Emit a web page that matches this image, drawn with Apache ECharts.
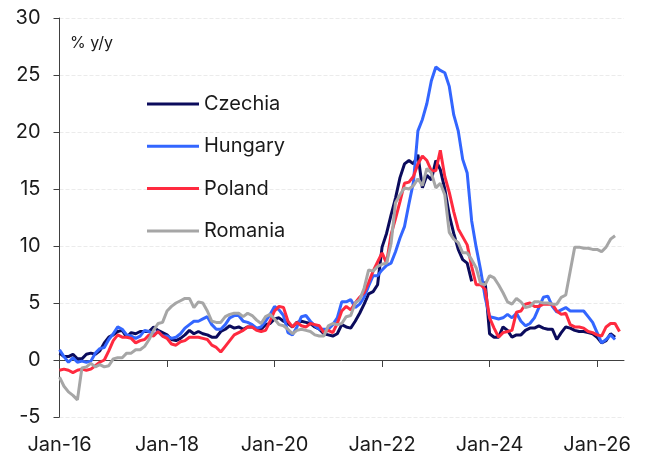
<!DOCTYPE html>
<html lang="en">
<head>
    <meta charset="UTF-8">
    <title>CPI inflation CEE</title>
    <script src="https://cdn.jsdelivr.net/npm/echarts@6.0.0/dist/echarts.min.js"></script>
</head>
<body style="margin: 0; background-color: #ffffff">
<div id="container" style="width: 651px; height: 457px"></div>
<script type="text/javascript">
    // monthly, Jan-16 onwards (% y/y)
    let czechia = [
        0.6, 0.3, 0.3, 0.5, 0.1, 0.1, 0.5, 0.6, 0.5, 0.8, 1.5, 2.0,
        2.2, 2.5, 2.6, 2.0, 2.4, 2.3, 2.5, 2.5, 2.5, 2.9, 2.6, 2.4,
        2.2, 1.8, 1.7, 1.9, 2.2, 2.6, 2.3, 2.5, 2.3, 2.2, 2.0, 2.0,
        2.5, 2.7, 3.0, 2.8, 2.9, 2.7, 2.9, 2.9, 2.7, 2.7, 3.1, 3.2,
        3.6, 3.7, 3.4, 3.2, 2.9, 3.3, 3.4, 3.3, 3.2, 2.9, 2.7, 2.3,
        2.2, 2.1, 2.3, 3.1, 2.9, 2.8, 3.4, 4.1, 4.9, 5.8, 6.0, 6.6,
        9.9, 11.1, 12.7, 14.2, 16.0, 17.2, 17.5, 17.2, 18.0, 15.1, 16.2, 15.8,
        17.5, 16.7, 15.0, 12.7, 11.1, 9.7, 8.8, 8.5, 6.9, null, null, 6.9,
        2.3, 2.0, 2.0, 2.9, 2.6, 2.0, 2.2, 2.2, 2.6, 2.8, 2.8, 3.0,
        2.8, 2.7, 2.7, 1.8, 2.4, 2.9, 2.8, 2.6, 2.5, 2.5, 2.4, 2.3,
        2.0, 1.5, 1.7, 2.3, 2.0
    ];
    let hungary = [
        0.9, 0.3, -0.2, 0.2, -0.2, -0.1, -0.2, -0.1, 0.6, 1.0, 1.1, 1.8,
        2.3, 2.9, 2.7, 2.2, 2.1, 1.9, 2.1, 2.6, 2.5, 2.2, 2.5, 2.1,
        2.1, 1.9, 2.0, 2.3, 2.8, 3.1, 3.4, 3.4, 3.6, 3.8, 3.1, 2.7,
        2.7, 3.1, 3.7, 3.9, 3.9, 3.4, 3.3, 3.1, 2.8, 2.9, 3.4, 4.0,
        4.7, 4.4, 3.9, 2.4, 2.2, 2.9, 3.8, 3.9, 3.4, 3.0, 2.7, 2.7,
        2.7, 3.1, 3.7, 5.1, 5.1, 5.3, 4.6, 4.9, 5.5, 6.5, 7.4, 7.4,
        7.9, 8.3, 8.5, 9.5, 10.7, 11.7, 13.7, 15.6, 20.1, 21.1, 22.5, 24.5,
        25.7, 25.4, 25.2, 24.0, 21.5, 20.1, 17.6, 16.4, 12.2, 9.9, 7.9, 5.5,
        3.8, 3.7, 3.6, 3.7, 4.0, 3.7, 4.1, 3.4, 3.0, 3.2, 3.7, 4.6,
        5.5, 5.6, 4.7, 4.2, 4.4, 4.6, 4.3, 4.3, 4.3, 4.3, 3.8, 3.3,
        2.4, 1.5, 1.8, 2.2, 1.8
    ];
    let poland = [
        -0.9, -0.8, -0.9, -1.1, -0.9, -0.8, -0.9, -0.8, -0.5, -0.2, 0.0, 0.8,
        1.7, 2.2, 2.0, 2.0, 1.9, 1.5, 1.7, 1.8, 2.2, 2.1, 2.5, 2.1,
        1.9, 1.4, 1.3, 1.6, 1.7, 2.0, 2.0, 2.0, 1.9, 1.8, 1.3, 1.1,
        0.7, 1.2, 1.7, 2.2, 2.4, 2.6, 2.9, 2.9, 2.6, 2.5, 2.6, 3.4,
        4.3, 4.7, 4.6, 3.4, 2.9, 3.3, 3.0, 2.9, 3.2, 3.1, 3.0, 2.4,
        2.6, 2.4, 3.2, 4.3, 4.7, 4.4, 5.0, 5.5, 5.9, 6.8, 7.8, 8.6,
        9.4, 8.5, 11.0, 12.4, 13.9, 15.5, 15.6, 16.1, 17.2, 17.9, 17.5, 16.6,
        16.6, 18.4, 16.1, 14.7, 13.0, 11.5, 10.8, 10.1, 8.2, 6.6, 6.6, 6.2,
        3.7, 2.8, 2.0, 2.4, 2.5, 2.6, 4.2, 4.3, 4.9, 5.0, 4.7, 4.7,
        4.9, 4.9, 4.9, 4.3, 4.0, 4.1, 3.1, 2.9, 2.9, 2.8, 2.5, 2.4,
        2.2, 2.1, 2.9, 3.2, 3.2, 2.5
    ];
    let romania = [
        -1.5, -2.3, -2.8, -3.1, -3.5, -0.7, -0.6, -0.3, -0.6, -0.4, -0.6, -0.5,
        0.1, 0.2, 0.2, 0.6, 0.6, 0.9, 0.9, 1.2, 1.8, 2.6, 3.2, 3.3,
        4.3, 4.7, 5.0, 5.2, 5.4, 5.4, 4.6, 5.1, 5.0, 4.3, 3.4, 3.3,
        3.3, 3.8, 4.0, 4.1, 4.1, 3.8, 4.1, 3.9, 3.5, 3.2, 3.8, 4.0,
        3.6, 3.1, 3.0, 2.7, 2.3, 2.6, 2.7, 2.6, 2.5, 2.2, 2.1, 2.1,
        3.0, 3.2, 3.1, 3.2, 3.8, 3.9, 5.0, 5.3, 6.3, 7.9, 7.8, 8.2,
        8.4, 8.5, 10.2, 13.8, 14.5, 15.1, 15.0, 15.3, 15.9, 15.3, 16.8, 16.4,
        15.1, 15.5, 14.5, 11.2, 10.6, 10.3, 9.4, 9.4, 8.8, 8.1, 6.7, 6.6,
        7.4, 7.2, 6.6, 5.9, 5.1, 4.9, 5.4, 5.1, 4.6, 4.7, 5.1, 5.1,
        5.0, 5.0, 4.9, 4.9, 5.5, 5.7, 7.8, 9.9, 9.9, 9.8, 9.8, 9.7,
        9.7, 9.5, 9.9, 10.6, 10.9
    ];
    let seriesNames = ['Czechia', 'Hungary', 'Poland', 'Romania'];
    let seriesColors = ['#0b0b5c', '#3366ff', '#ff2a3f', '#a6a6a6'];
    let monthNames = ['Jan', 'Feb', 'Mar', 'Apr', 'May', 'Jun', 'Jul', 'Aug', 'Sep', 'Oct', 'Nov', 'Dec'];
    let firstYear = 16;
    let monthCount = 127; // Jan-16 .. Jul-26, axis runs a little past the data

    let months = [];
    for (let i = 0; i < monthCount; i++) {
        months.push(monthNames[i % 12] + '-' + (firstYear + Math.floor(i / 12)));
    }

    let font = 'Inter';
    let dom = document.getElementById("container");
    let myChart = echarts.init(dom, null, {renderer: 'canvas'});
    let allData = [czechia, hungary, poland, romania];
    let series = [];
    for (let i = 0; i < seriesNames.length; i++) {
        series.push({
            name: seriesNames[i],
            type: 'line',
            data: allData[i],
            showSymbol: false,
            connectNulls: false,
            color: seriesColors[i],
            lineStyle: {width: 3, color: seriesColors[i]}
        });
    }

    let option = {
        animation: false,
        grid: {left: 59.5, right: 27, top: 18, bottom: 40, outerBoundsMode: 'none'},
        legend: {
            orient: 'vertical',
            left: 147,
            top: 94,
            padding: 0,
            icon: 'rect',
            itemWidth: 52,
            itemHeight: 3,
            itemGap: 22.3,
            data: seriesNames,
            textStyle: {fontFamily: font, fontSize: 20, color: '#1a1a1a'}
        },
        graphic: [{
            type: 'text',
            left: 70,
            top: 35,
            style: {text: '% y/y', fontFamily: font, fontSize: 16, fill: '#1a1a1a'}
        }],
        xAxis: {
            type: 'category',
            boundaryGap: false,
            data: months,
            axisLine: {onZero: true, lineStyle: {color: '#404040', width: 1}},
            axisTick: {interval: 23, length: 7, lineStyle: {color: '#404040'}},
            // labels sit under the plot, not under the zero line
            axisLabel: {interval: 23, margin: 18, fontFamily: font, fontSize: 20, color: '#1a1a1a'},
            splitLine: {show: false}
        },
        yAxis: {
            type: 'value',
            min: -5,
            max: 30,
            interval: 5,
            axisLine: {show: true, lineStyle: {color: '#404040', width: 1}},
            axisTick: {show: true, length: 6, lineStyle: {color: '#404040'}},
            axisLabel: {margin: 19, fontFamily: font, fontSize: 20, color: '#1a1a1a'},
            splitLine: {show: true, lineStyle: {color: '#ebebeb', type: 'dashed', width: 1}}
        },
        series: series
    };

    myChart.setOption(option);
</script>
</body>
</html>
